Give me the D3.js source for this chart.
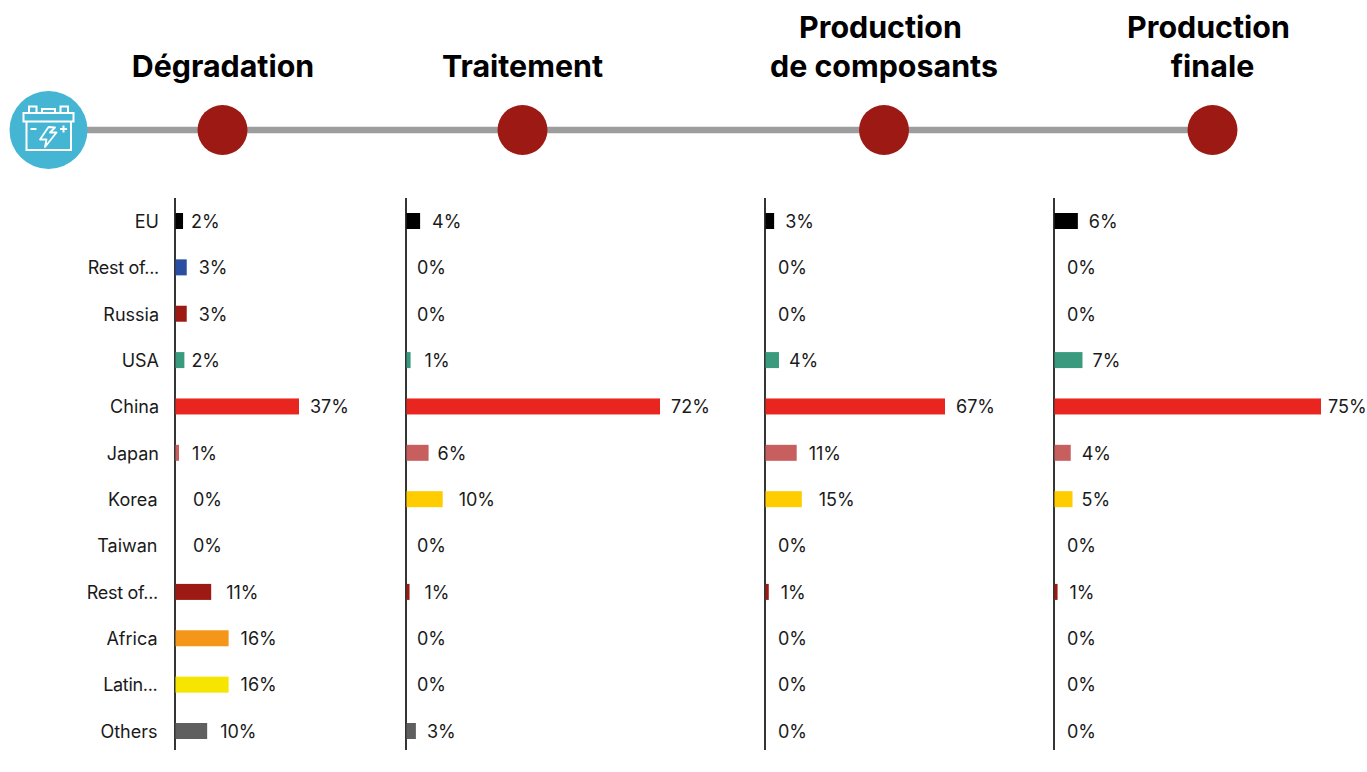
<!DOCTYPE html>
<html><head><meta charset="utf-8">
<script src="https://cdn.jsdelivr.net/npm/d3@7/dist/d3.min.js"></script>
<style>
html,body{margin:0;padding:0;background:#fff}
svg{display:block}
text{font-family:Inter,"Noto Sans",sans-serif}
</style></head><body>
<svg id="c" width="1367" height="772"></svg>
<script>
const categories = ["EU","Rest of...","Russia","USA","China","Japan","Korea","Taiwan","Rest of...","Africa","Latin...","Others"];
const colors = ["#000000","#2a4fa0","#9c1a13","#3a9a7e","#e8261f","#c75f5f","#ffcc00","#cccccc","#9c1a13","#f59519","#f5e500","#5f5f5f"];
const stages = ["Dégradation","Traitement","Production de composants","Production finale"];
const degradation = [2.4,3.5,3.5,2.8,37,1.2,0,0,10.8,16,16,9.6];
const traitement  = [4,0,0,1.3,72,6.4,10.4,0,1,0,0,2.8];
const composants  = [3.4,0,0,5.2,67,11.8,13.7,0,1.4,0,0,0];
const finale      = [6.7,0,0,8,75,4.7,5.2,0,1,0,0,0];
const degradationLabels = [2,3,3,2,37,1,0,0,11,16,16,10];
const traitementLabels  = [4,0,0,1,72,6,10,0,1,0,0,3];
const composantsLabels  = [3,0,0,4,67,11,15,0,1,0,0,0];
const finaleLabels      = [6,0,0,7,75,4,5,0,1,0,0,0];
const seriesValues = [degradation,traitement,composants,finale];
const seriesLabels = [degradationLabels,traitementLabels,composantsLabels,finaleLabels];

const svg = d3.select("#c");
const rowY = d3.scalePoint().domain(d3.range(categories.length)).range([221,731]);
const barH = 16;
// layout only: axis position, scale length, timeline node and the gap between each bar and its label
const panels = [
  {x:175, pxMax:124, vMax:37, node:222.5, gaps:[8,12,12,7,11,13,18,18,15,12,12,13]},
  {x:406, pxMax:254, vMax:72, node:522.5, gaps:[12,11,11,14,11,9,16,11,15,11,11,11]},
  {x:765, pxMax:180, vMax:67, node:884,   gaps:[11,13,13,10,11,12,17,13,12,13,13,13]},
  {x:1054,pxMax:267, vMax:75, node:1212.5,gaps:[11,13,13,10,7,11,9,13,12,13,13,13]}
];
const titleLines = [["Dégradation"],["Traitement"],["Production","de composants"],["Production","finale"]];
const titleX = [[223],[522.5],[880.5,884],[1208.5,1212.5]];
const labelRight = [159,159,159,159,159,159,157.5,157.5,158,157.5,157.5,157.5];

// timeline
svg.append("line").attr("x1",48).attr("x2",1212).attr("y1",130).attr("y2",130).attr("stroke","#9d9d9d").attr("stroke-width",6.5);
panels.forEach(p=>svg.append("circle").attr("cx",p.node).attr("cy",130).attr("r",25).attr("fill","#9c1a13"));
svg.append("circle").attr("cx",48.5).attr("cy",130).attr("r",39).attr("fill","#44b5d3");

// battery icon
const ic = svg.append("g").attr("fill","none").attr("stroke","#fff").attr("stroke-width",2);
ic.append("rect").attr("x",23.5).attr("y",113).attr("width",50).attr("height",8.5);
ic.append("path").attr("d","M26.5 121.5V150H71V121.5");
ic.append("path").attr("d","M29 112.5V106.5H36.5V112.5M60.5 112.5V106.5H68V112.5M42 112.5V109H55V112.5");
ic.append("path").attr("d","M30.5 129H36.5M60 129H67M63.5 125.5V132.5");
ic.append("path").attr("d","M48.5 127L40 139.5H46.5L45 147L56.5 132.5H50L55 127.5Z").attr("stroke-linejoin","round").attr("stroke-width",1.8);

// titles
titleLines.forEach((lines,i)=>{
  const t = svg.append("text").attr("text-anchor","middle").attr("font-size",30.4).attr("font-weight",700).attr("fill","#000");
  const top = lines.length===2 ? 38 : 77;
  lines.forEach((l,j)=>t.append("tspan").attr("x",titleX[i][j]).attr("y",top+j*39).text(l));
});

// panels
panels.forEach((p,i)=>{
  const x = d3.scaleLinear().domain([0,p.vMax]).range([p.x,p.x+p.pxMax]);
  const g = svg.append("g");
  g.append("line").attr("x1",p.x).attr("x2",p.x).attr("y1",198).attr("y2",750).attr("stroke","#111").attr("stroke-width",1.7);
  const rows = categories.map((c,k)=>({k,v:seriesValues[i][k],lab:seriesLabels[i][k]}));
  g.selectAll("rect").data(rows).join("rect")
    .attr("x",p.x+.5).attr("y",d=>rowY(d.k)-barH/2)
    .attr("width",d=>Math.max(0,x(d.v)-p.x-.5)).attr("height",barH).attr("fill",d=>colors[d.k]);
  g.selectAll("text").data(rows).join("text")
    .attr("x",d=>x(d.v)+p.gaps[d.k]).attr("y",d=>rowY(d.k)+6.8)
    .attr("font-size",18).attr("fill","#1a1a1a").text(d=>d.lab+"%");
});
// category labels
svg.append("g").selectAll("text").data(categories).join("text")
  .attr("x",(d,i)=>labelRight[i]).attr("y",(d,i)=>rowY(i)+6.8).attr("text-anchor","end")
  .attr("font-size",18).attr("fill","#1a1a1a")
  .style("letter-spacing",d=>d.endsWith("...")?"-0.3px":null).text(d=>d);
</script>
</body></html>
